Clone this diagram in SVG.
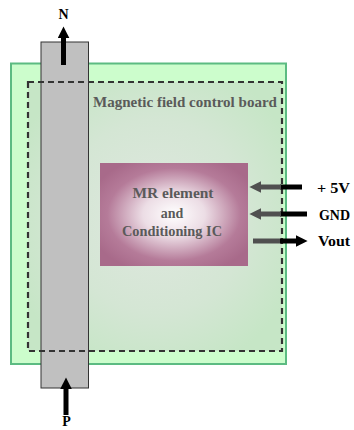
<svg xmlns="http://www.w3.org/2000/svg" width="354" height="430" viewBox="0 0 354 430">
<defs>
<radialGradient id="innerG" cx="0.5" cy="0.5" r="0.6">
<stop offset="0" stop-color="#dfe7df"/>
<stop offset="0.6" stop-color="#d4e6d4"/>
<stop offset="1" stop-color="#c6e6c6"/>
</radialGradient>
<radialGradient id="icG" cx="0.5" cy="0.5" r="0.6">
<stop offset="0" stop-color="#ffffff"/>
<stop offset="0.35" stop-color="#ecdde5"/>
<stop offset="0.75" stop-color="#b57b99"/>
<stop offset="1" stop-color="#a86a8a"/>
</radialGradient>
<marker id="hb" viewBox="0 0 10 10" refX="2" refY="5" markerWidth="2.4" markerHeight="2.4" orient="auto" markerUnits="strokeWidth"><path d="M0,0 L10,5 L0,10 z" fill="#000"/></marker>
<marker id="hg" viewBox="0 0 10 10" refX="2" refY="5" markerWidth="2.4" markerHeight="2.4" orient="auto" markerUnits="strokeWidth"><path d="M0,0 L10,5 L0,10 z" fill="#505050"/></marker>
</defs>
<style>
.lbl{font-family:"Liberation Serif","Times New Roman",serif;font-weight:bold;font-size:14px}
.in{fill:#5a5a5a}
.dark{fill:#000}
.sb{stroke:#000;stroke-width:5;fill:none}
.sg{stroke:#505050;stroke-width:5;fill:none}
</style>
<g id="board">
<rect x="11" y="63.5" width="275" height="300.5" fill="#ccfdcc" stroke="#5cbb82" stroke-width="2"/>
<rect x="28" y="82" width="254" height="269" fill="url(#innerG)"/>
<text class="lbl in" x="93" y="107" textLength="184" lengthAdjust="spacingAndGlyphs">Magnetic field control board</text>
</g>
<g id="magnet">
<rect x="41" y="42" width="47.5" height="346" fill="#c0c0c0" stroke="#333" stroke-width="1"/>
</g>
<rect x="28" y="82" width="254" height="269" fill="none" stroke="#333" stroke-width="2.2" stroke-dasharray="6 4"/>
<g id="ic">
<rect x="100" y="163" width="148" height="103" fill="url(#icG)"/>
<text class="lbl in" text-anchor="middle" x="173" y="198" textLength="81" lengthAdjust="spacingAndGlyphs">MR element</text>
<text class="lbl in" text-anchor="middle" x="172" y="218">and</text>
<text class="lbl in" text-anchor="middle" x="172" y="236" textLength="100" lengthAdjust="spacingAndGlyphs">Conditioning IC</text>
</g>
<g id="connectors">
<line class="sb" x1="63.5" y1="65" x2="63.5" y2="36" marker-end="url(#hb)"/>
<line class="sb" x1="66" y1="415" x2="66" y2="387" marker-end="url(#hb)"/>
<line class="sb" x1="302" y1="187" x2="280" y2="187"/>
<line class="sg" x1="281" y1="187" x2="259" y2="187" marker-end="url(#hg)"/>
<line class="sb" x1="307" y1="214" x2="280" y2="214"/>
<line class="sg" x1="281" y1="214" x2="259" y2="214" marker-end="url(#hg)"/>
<line class="sg" x1="253" y1="241" x2="281" y2="241"/>
<line class="sb" x1="280" y1="241" x2="298" y2="241" marker-end="url(#hb)"/>
</g>
<g id="labels">
<text class="lbl dark" text-anchor="middle" x="63.5" y="19" font-size="13">N</text>
<text class="lbl dark" text-anchor="middle" x="66.5" y="426" font-size="13">P</text>
<text class="lbl dark" x="317" y="193" textLength="33" lengthAdjust="spacingAndGlyphs">+ 5V</text>
<text class="lbl dark" x="319" y="220" textLength="31" lengthAdjust="spacingAndGlyphs">GND</text>
<text class="lbl dark" x="318" y="246" textLength="32" lengthAdjust="spacingAndGlyphs">Vout</text>
</g>
</svg>
